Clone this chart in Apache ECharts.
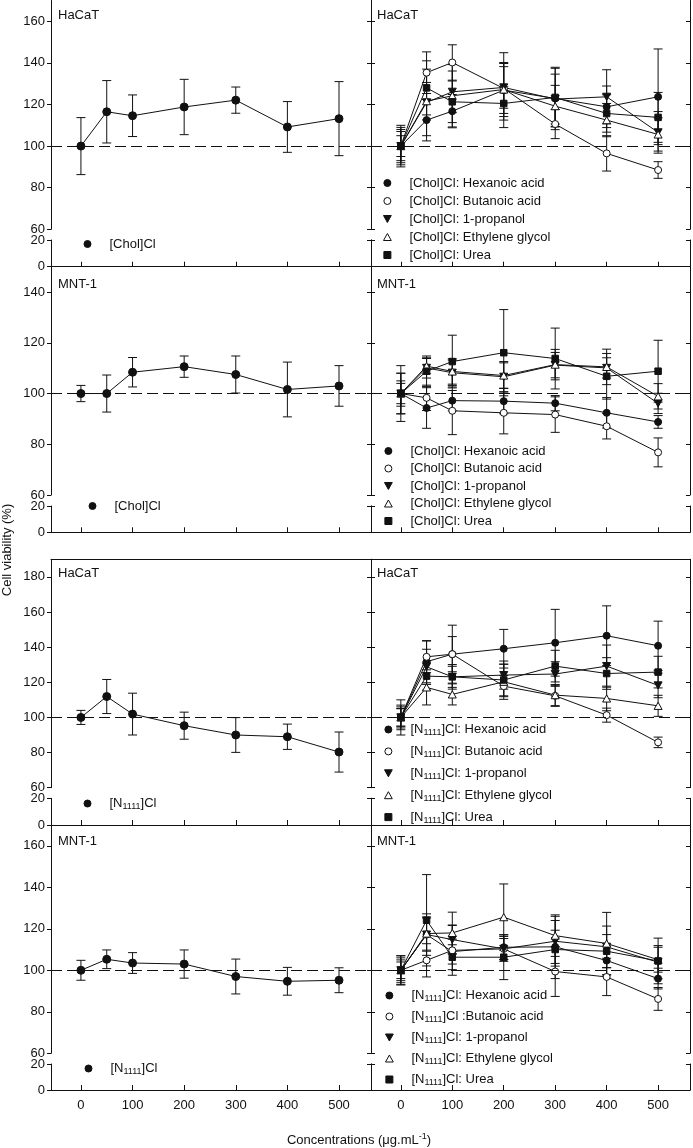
<!DOCTYPE html>
<html>
<head>
<meta charset="utf-8">
<title>Cell viability</title>
<script src="https://cdn.jsdelivr.net/npm/echarts@6.0.0/dist/echarts.min.js"></script>
<style>
  html, body { margin: 0; padding: 0; background: #fff; }
  #chart { width: 693px; height: 1148px; }
</style>
</head>
<body>
<div id="chart"></div>
<script>
  // concentrations (ug/mL)
  const conc = [0, 50, 100, 200, 300, 400, 500];
  const xTicks = [0, 100, 200, 300, 400, 500];

  // single salts (left column)
  const cholHaCaT = [100, 116.5, 114.6, 118.8, 122.1, 109.2, 113.2];
  const cholHaCaTErr = [13.7, 15, 10, 13.3, 6.3, 12.2, 17.8];
  const cholMNT = [100, 100, 108.4, 110.6, 107.5, 101.6, 103];
  const cholMNTErr = [3.2, 7.3, 5.8, 4.2, 7.3, 10.8, 8];
  const n1111HaCaT = [100, 111.9, 101.9, 95.3, 90, 89, 80.3];
  const n1111HaCaTErr = [4, 9.7, 11.9, 7.7, 9.9, 7.2, 11.4];
  const n1111MNT = [100, 105.3, 103.5, 103, 97, 94.7, 95.2];
  const n1111MNTErr = [4.8, 4.5, 5, 6.8, 8.4, 6.7, 6];

  // [Chol]Cl mixtures, HaCaT
  const cholHaCaTHex = [100, 112.5, 116.8, 126.9, 122.9, 118.9, 123.7];
  const cholHaCaTHexErr = [8, 10, 8, 18, 15, 10, 23];
  const cholHaCaTBut = [100, 135.3, 140.2, 127.7, 110.6, 96.5, 88.5];
  const cholHaCaTButErr = [5, 10, 8.5, 12, 7, 8.5, 4];
  const cholHaCaTProp = [100, 121, 126.1, 128.2, 122.6, 123.7, 106.6];
  const cholHaCaTPropErr = [10, 16, 10, 10, 12, 13, 10];
  const cholHaCaTEth = [100, 121.6, 124.2, 127.2, 119.2, 112.5, 105.6];
  const cholHaCaTEthErr = [7, 9, 15, 13, 10, 8, 8];
  const cholHaCaTUrea = [100, 128, 121.3, 120.5, 123.4, 115.7, 113.8];
  const cholHaCaTUreaErr = [9, 13, 10, 8, 14, 9, 12];

  // [Chol]Cl mixtures, MNT-1
  const cholMNTHex = [100, 94.3, 97.2, 97, 96.2, 92.4, 88.8];
  const cholMNTHexErr = [11, 8, 4, 5, 3, 6, 2.5];
  const cholMNTBut = [100, 98.3, 93.2, 92.4, 91.7, 87.1, 76.8];
  const cholMNTButErr = [8, 5, 9.4, 8.3, 7, 5, 5.7];
  const cholMNTProp = [100, 110.1, 108.2, 106.6, 111.2, 110.1, 96.1];
  const cholMNTPropErr = [5, 4, 5, 6, 5, 4, 4];
  const cholMNTEth = [100, 110.8, 108.7, 107.1, 111.4, 110.5, 98.9];
  const cholMNTEthErr = [4, 3, 5, 5, 6, 7, 5];
  const cholMNTUrea = [100, 108.8, 112.6, 116.1, 113.8, 106.8, 108.8];
  const cholMNTUreaErr = [8, 6, 10.4, 17, 12, 9, 12.2];

  // [N1111]Cl mixtures, HaCaT
  const n1111HaCaTHex = [100, 131.7, 136, 139.1, 142.5, 146.5, 140.8];
  const n1111HaCaTHexErr = [10, 12, 10, 11, 19, 17, 14];
  const n1111HaCaTBut = [100, 134.5, 136, 117.8, 112.3, 101.3, 85.8];
  const n1111HaCaTButErr = [6, 9, 16.5, 6, 6, 4, 3];
  const n1111HaCaTProp = [100, 128.8, 123.1, 124.1, 124.7, 129.2, 118.2];
  const n1111HaCaTPropErr = [5, 10, 6, 8, 7, 12, 7];
  const n1111HaCaTEth = [100, 117.1, 113.1, 120.3, 112.7, 110.8, 106.6];
  const n1111HaCaTEthErr = [7, 10, 6, 10, 6, 7, 6];
  const n1111HaCaTUrea = [100, 123.5, 123.1, 121.3, 129.2, 125, 125.8];
  const n1111HaCaTUreaErr = [5, 8, 7, 9, 9, 9, 9];

  // [N1111]Cl mixtures, MNT-1
  const n1111MNTHex = [100, 117.2, 109, 111.1, 111.3, 104.7, 96];
  const n1111MNTHexErr = [7, 8, 6, 6, 8, 7, 5];
  const n1111MNTBut = [100, 104.8, 109.6, 110.3, 99.4, 96.8, 86.2];
  const n1111MNTButErr = [6, 8, 12, 5, 12, 9, 5.5];
  const n1111MNTProp = [100, 117.2, 114.8, 110.3, 114, 111.3, 103.9];
  const n1111MNTPropErr = [5, 10, 7, 6, 12, 10, 8];
  const n1111MNTEth = [100, 117.7, 118, 125.6, 116.7, 112.9, 105.1];
  const n1111MNTEthErr = [4, 8, 10, 16, 10, 15, 6];
  const n1111MNTUrea = [100, 124.1, 106.3, 106.3, 110, 109.2, 104.5];
  const n1111MNTUreaErr = [7, 22, 6, 10.8, 14, 8, 11];

  // y axis (upper part) ticks and top of range per row, lower part is always 0-20
  const yTicksRow = [
    [60, 80, 100, 120, 140, 160],
    [60, 80, 100, 120, 140],
    [60, 80, 100, 120, 140, 160, 180],
    [60, 80, 100, 120, 140, 160]
  ];
  const yMaxRow = [170, 150, 190, 170];
  const lowTicks = [0, 20];
  const cellLines = ['HaCaT', 'MNT-1', 'HaCaT', 'MNT-1'];

  const FONT = '"Liberation Sans", Arial, sans-serif';
  const INK = '#111';

  const markers = {
    plain: {symbol: 'circle', size: 8, fill: INK},
    hex: {symbol: 'circle', size: 7, fill: INK},
    but: {symbol: 'circle', size: 7, fill: '#fff'},
    prop: {symbol: 'path://M0,0L10,0L5,9Z', size: 8, fill: INK},
    eth: {symbol: 'path://M5,0L10,9L0,9Z', size: 8, fill: '#fff'},
    urea: {symbol: 'path://M0,0L10,0L10,10L0,10Z', size: 6.5, fill: INK}
  };

  function mix(salt, sep, hex, but, prop, eth, urea) {
    return [
      {name: salt + ': Hexanoic acid', values: hex[0], err: hex[1], mk: 'hex'},
      {name: salt + sep + 'Butanoic acid', values: but[0], err: but[1], mk: 'but'},
      {name: salt + ': 1-propanol', values: prop[0], err: prop[1], mk: 'prop'},
      {name: salt + ': Ethylene glycol', values: eth[0], err: eth[1], mk: 'eth'},
      {name: salt + ': Urea', values: urea[0], err: urea[1], mk: 'urea'}
    ];
  }

  const panels = [
    [{name: '[Chol]Cl', values: cholHaCaT, err: cholHaCaTErr, mk: 'plain'}],
    mix('[Chol]Cl', ': ', [cholHaCaTHex, cholHaCaTHexErr], [cholHaCaTBut, cholHaCaTButErr],
      [cholHaCaTProp, cholHaCaTPropErr], [cholHaCaTEth, cholHaCaTEthErr], [cholHaCaTUrea, cholHaCaTUreaErr]),
    [{name: '[Chol]Cl', values: cholMNT, err: cholMNTErr, mk: 'plain'}],
    mix('[Chol]Cl', ': ', [cholMNTHex, cholMNTHexErr], [cholMNTBut, cholMNTButErr],
      [cholMNTProp, cholMNTPropErr], [cholMNTEth, cholMNTEthErr], [cholMNTUrea, cholMNTUreaErr]),
    [{name: '[N1111]Cl', values: n1111HaCaT, err: n1111HaCaTErr, mk: 'plain'}],
    mix('[N1111]Cl', ': ', [n1111HaCaTHex, n1111HaCaTHexErr], [n1111HaCaTBut, n1111HaCaTButErr],
      [n1111HaCaTProp, n1111HaCaTPropErr], [n1111HaCaTEth, n1111HaCaTEthErr], [n1111HaCaTUrea, n1111HaCaTUreaErr]),
    [{name: '[N1111]Cl', values: n1111MNT, err: n1111MNTErr, mk: 'plain'}],
    mix('[N1111]Cl', ' :', [n1111MNTHex, n1111MNTHexErr], [n1111MNTBut, n1111MNTButErr],
      [n1111MNTProp, n1111MNTPropErr], [n1111MNTEth, n1111MNTEthErr], [n1111MNTUrea, n1111MNTUreaErr])
  ];

  // pixel layout of each row: upper part top..brk1, lower part brk2..bottom
  const rowBox = [
    {top: 0.5, brk1: 229.3, brk2: 240, bottom: 266.7},
    {top: 266.7, brk1: 495, brk2: 506, bottom: 532.3},
    {top: 559.3, brk1: 787.7, brk2: 798.3, bottom: 825},
    {top: 825, brk1: 1053.3, brk2: 1064, bottom: 1090}
  ];
  const colBox = [{left: 51, width: 320}, {left: 371, width: 319}];
  // legend box left edge = left edge of the widest icon
  const legendBox = [
    [{left: 83.5, top: 237, gap: 4}, {left: 383, top: 176, gap: 4}],
    [{left: 88.5, top: 499, gap: 4}, {left: 384, top: 444, gap: 3.5}],
    [{left: 83.5, top: 795.5, gap: 4}, {left: 384, top: 721.5, gap: 5.9}],
    [{left: 84.5, top: 1060.5, gap: 4}, {left: 385, top: 987.5, gap: 5}]
  ];

  function renderErr(params, api) {
    const x = api.value(0), y = api.value(1), e = api.value(2);
    const hi = api.coord([x, y + e]);
    const lo = api.coord([x, y - e]);
    const hw = 4.5;
    const st = {stroke: INK, lineWidth: 1};
    return {
      type: 'group',
      children: [
        {type: 'line', shape: {x1: hi[0], y1: hi[1], x2: lo[0], y2: lo[1]}, style: st},
        {type: 'line', shape: {x1: hi[0] - hw, y1: hi[1], x2: hi[0] + hw, y2: hi[1]}, style: st},
        {type: 'line', shape: {x1: lo[0] - hw, y1: lo[1], x2: lo[0] + hw, y2: lo[1]}, style: st}
      ]
    };
  }

  const axisLine = {lineStyle: {color: INK, width: 1}};
  const labelStyle = {fontSize: 13, fontFamily: FONT, color: INK};

  const grid = [], xAxis = [], yAxis = [], series = [], legend = [], title = [];

  panels.forEach(function (list, p) {
    const r = p >> 1, c = p & 1;
    const rb = rowBox[r], cb = colBox[c];
    grid.push({left: cb.left, width: cb.width, top: rb.top, height: rb.brk1 - rb.top});
    grid.push({left: cb.left, width: cb.width, top: rb.brk2, height: rb.bottom - rb.brk2});

    xAxis.push({
      type: 'value', gridIndex: 2 * p, position: 'top', min: -58, max: 562,
      axisLine: {show: r !== 0, onZero: false, lineStyle: axisLine.lineStyle},
      axisTick: {show: false}, axisLabel: {show: false}, splitLine: {show: false}
    });
    xAxis.push({
      type: 'value', gridIndex: 2 * p + 1, position: 'bottom', min: -58, max: 562,
      axisLine: {show: true, onZero: false, lineStyle: axisLine.lineStyle},
      axisTick: {show: true, inside: true, length: 5, customValues: xTicks, lineStyle: axisLine.lineStyle},
      axisLabel: Object.assign({show: r === 3, customValues: xTicks, margin: 9}, labelStyle),
      splitLine: {show: false}
    });

    [[60, yMaxRow[r], yTicksRow[r], 2 * p], [0, 20, lowTicks, 2 * p + 1]].forEach(function (part) {
      yAxis.push({
        type: 'value', gridIndex: part[3], position: 'left', min: part[0], max: part[1],
        axisLine: {show: true, onZero: false, lineStyle: axisLine.lineStyle},
        axisTick: {show: true, inside: c === 1, length: 4, customValues: part[2], lineStyle: axisLine.lineStyle},
        axisLabel: Object.assign({show: c === 0, customValues: part[2], margin: 6}, labelStyle),
        splitLine: {show: false}
      });
      yAxis.push({
        type: 'value', gridIndex: part[3], position: 'right', min: part[0], max: part[1],
        axisLine: {show: true, onZero: false, lineStyle: axisLine.lineStyle},
        axisTick: {show: true, inside: true, length: 4, customValues: part[2], lineStyle: axisLine.lineStyle},
        axisLabel: {show: false}, splitLine: {show: false}
      });
    });

    list.forEach(function (s, k) {
      const mk = markers[s.mk];
      const line = {
        type: 'line', name: s.name, xAxisIndex: 2 * p, yAxisIndex: 4 * p,
        data: conc.map(function (x, i) { return [x, s.values[i]]; }),
        symbol: mk.symbol, symbolSize: mk.size, symbolKeepAspect: true,
        itemStyle: {color: mk.fill, borderColor: INK, borderWidth: 1},
        lineStyle: {color: INK, width: 1},
        z: 3
      };
      if (k === 0) {
        line.markLine = {
          silent: true, symbol: 'none', label: {show: false},
          lineStyle: {color: INK, width: 1, type: [11, 5]},
          data: [{yAxis: 100}]
        };
      }
      series.push(line);
      series.push({
        type: 'custom', name: s.name + ' err', xAxisIndex: 2 * p, yAxisIndex: 4 * p,
        data: conc.map(function (x, i) { return [x, s.values[i], s.err[i]]; }),
        encode: {x: 0, y: 1}, renderItem: renderErr, silent: true, z: 2
      });
    });

    const lb = legendBox[r][c];
    legend.push({
      orient: 'vertical', left: lb.left, top: lb.top, padding: 0, itemGap: lb.gap,
      itemWidth: 34, itemHeight: 7, selectedMode: false,
      textStyle: {
        fontSize: 13, lineHeight: 14, fontFamily: FONT, color: INK,
        rich: {sub: {fontSize: 9, lineHeight: 10, padding: [7, 0, 0, 0], fontFamily: FONT, color: INK}}
      },
      formatter: function (name) { return name.replace('N1111', 'N{sub|1111}'); },
      data: list.map(function (s) {
        const mk = markers[s.mk];
        return {name: s.name, icon: mk.symbol, itemStyle: {color: mk.fill, borderColor: INK, borderWidth: 1}};
      })
    });

    title.push({
      text: cellLines[r], left: c === 0 ? 58 : 377, top: [15, 284, 573, 841][r] - 7.5, padding: 0,
      textStyle: {fontSize: 13, lineHeight: 15, fontWeight: 'normal', fontFamily: FONT, color: INK}
    });
  });

  const chart = echarts.init(document.getElementById('chart'), null, {renderer: 'canvas'});
  chart.setOption({
    animation: false,
    backgroundColor: '#fff',
    title: title,
    grid: grid,
    xAxis: xAxis,
    yAxis: yAxis,
    legend: legend,
    series: series,
    graphic: [
      {
        type: 'text', x: 7, y: 550, rotation: Math.PI / 2,
        style: {text: 'Cell viability (%)', fontSize: 13, fontFamily: FONT, fill: INK, align: 'center', verticalAlign: 'middle'}
      },
      {
        type: 'text', x: 359, y: 1140,
        style: {
          text: 'Concentrations (\u03bcg.mL{sup|-1})', fontSize: 13, fontFamily: FONT, fill: INK,
          align: 'center', verticalAlign: 'middle', lineHeight: 15,
          rich: {sup: {fontSize: 9, lineHeight: 9, verticalAlign: 'top', fontFamily: FONT, fill: INK}}
        }
      }
    ]
  });
</script>
</body>
</html>
